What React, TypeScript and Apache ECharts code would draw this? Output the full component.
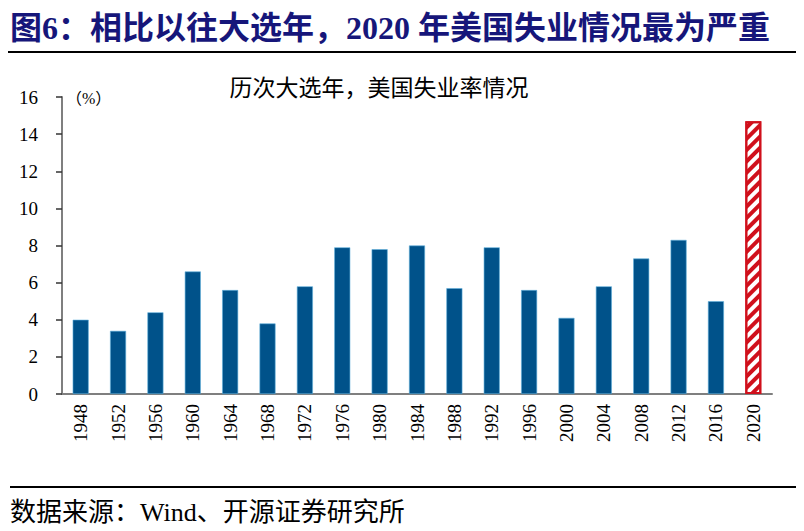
import React, { useEffect, useRef } from "react";
import * as echarts from "echarts";

const years = ["1948", "1952", "1956", "1960", "1964", "1968", "1972", "1976", "1980", "1984", "1988", "1992", "1996", "2000", "2004", "2008", "2012", "2016", "2020"];
const unemployment = [4.0, 3.4, 4.4, 6.6, 5.6, 3.8, 5.8, 7.9, 7.8, 8.0, 5.7, 7.9, 5.6, 4.1, 5.8, 7.3, 8.3, 5.0, 14.7];
const yTicks = { min: 0, max: 16, interval: 2 };

const titleText = "图6：相比以往大选年，2020 年美国失业情况最为严重";
const subTitle = "历次大选年，美国失业率情况";
const unitText = "（%）";
const sourceText = "数据来源：Wind、开源证券研究所";

const SERIF = "'Liberation Serif', 'Times New Roman', 'Noto Sans CJK SC', serif";

export default function App() {
  const ref = useRef<HTMLDivElement>(null);
  useEffect(() => {
    if (!ref.current) return;
    const chart = echarts.init(ref.current, null, { renderer: "svg" });
    const last = years.length - 1;
    const data = unemployment.map((v, i) =>
      i === last
        ? {
            value: v,
            itemStyle: {
              color: "#ffffff",
              borderColor: "#d0101c",
              borderWidth: 2,
              decal: {
                symbol: "rect",
                symbolSize: 1,
                dashArrayX: [1, 0],
                dashArrayY: [3.5, 3.5],
                rotation: -Math.PI / 4,
                color: "#d0101c",
              },
            },
          }
        : { value: v }
    );
    chart.setOption({
      animation: false,
      backgroundColor: "#ffffff",
      textStyle: { fontFamily: SERIF },
      grid: { left: 62, right: 32, top: 97, bottom: 137 },
      xAxis: {
        type: "category",
        data: years,
        boundaryGap: true,
        axisLine: { lineStyle: { color: "#7f7f7f", width: 2 } },
        axisTick: { alignWithLabel: false, length: 6, lineStyle: { color: "#333", width: 1.5 } },
        axisLabel: { rotate: 90, color: "#000", fontSize: 19, fontFamily: SERIF, margin: 10, interval: 0 },
      },
      yAxis: {
        type: "value",
        min: yTicks.min,
        max: yTicks.max,
        interval: yTicks.interval,
        splitLine: { show: false },
        axisLine: { show: true, lineStyle: { color: "#7f7f7f", width: 2 } },
        axisTick: { show: true, length: 6, lineStyle: { color: "#333", width: 1.5 } },
        axisLabel: { color: "#000", fontSize: 19, fontFamily: SERIF, margin: 24 },
      },
      series: [
        {
          type: "bar",
          data,
          barWidth: 16,
          itemStyle: { color: "#00528a", borderColor: "#5fb0dc", borderWidth: 0.6 },
        },
      ],
      graphic: [
        {
          type: "text",
          x: 10,
          y: 28,
          style: { text: titleText, fill: "#16167a", font: `bold 32px ${SERIF}`, align: "left", verticalAlign: "middle" },
        },
        {
          type: "rect",
          shape: { x: 8, y: 51, width: 788, height: 2 },
          style: { fill: "#000" },
        },
        {
          type: "text",
          x: 379,
          y: 88,
          style: { text: subTitle, fill: "#000", font: `23px ${SERIF}`, align: "center", verticalAlign: "middle" },
        },
        {
          type: "text",
          x: 66,
          y: 98,
          style: { text: unitText, fill: "#000", font: `16px ${SERIF}`, align: "left", verticalAlign: "middle" },
        },
        {
          type: "rect",
          shape: { x: 10, y: 486, width: 786, height: 2 },
          style: { fill: "#000" },
        },
        {
          type: "text",
          x: 10,
          y: 512,
          style: { text: sourceText, fill: "#000", font: `26px ${SERIF}`, align: "left", verticalAlign: "middle" },
        },
      ],
    });
    return () => chart.dispose();
  }, []);
  return <div ref={ref} style={{ position: "fixed", left: 0, top: 0, width: 804, height: 531 }} />;
}
